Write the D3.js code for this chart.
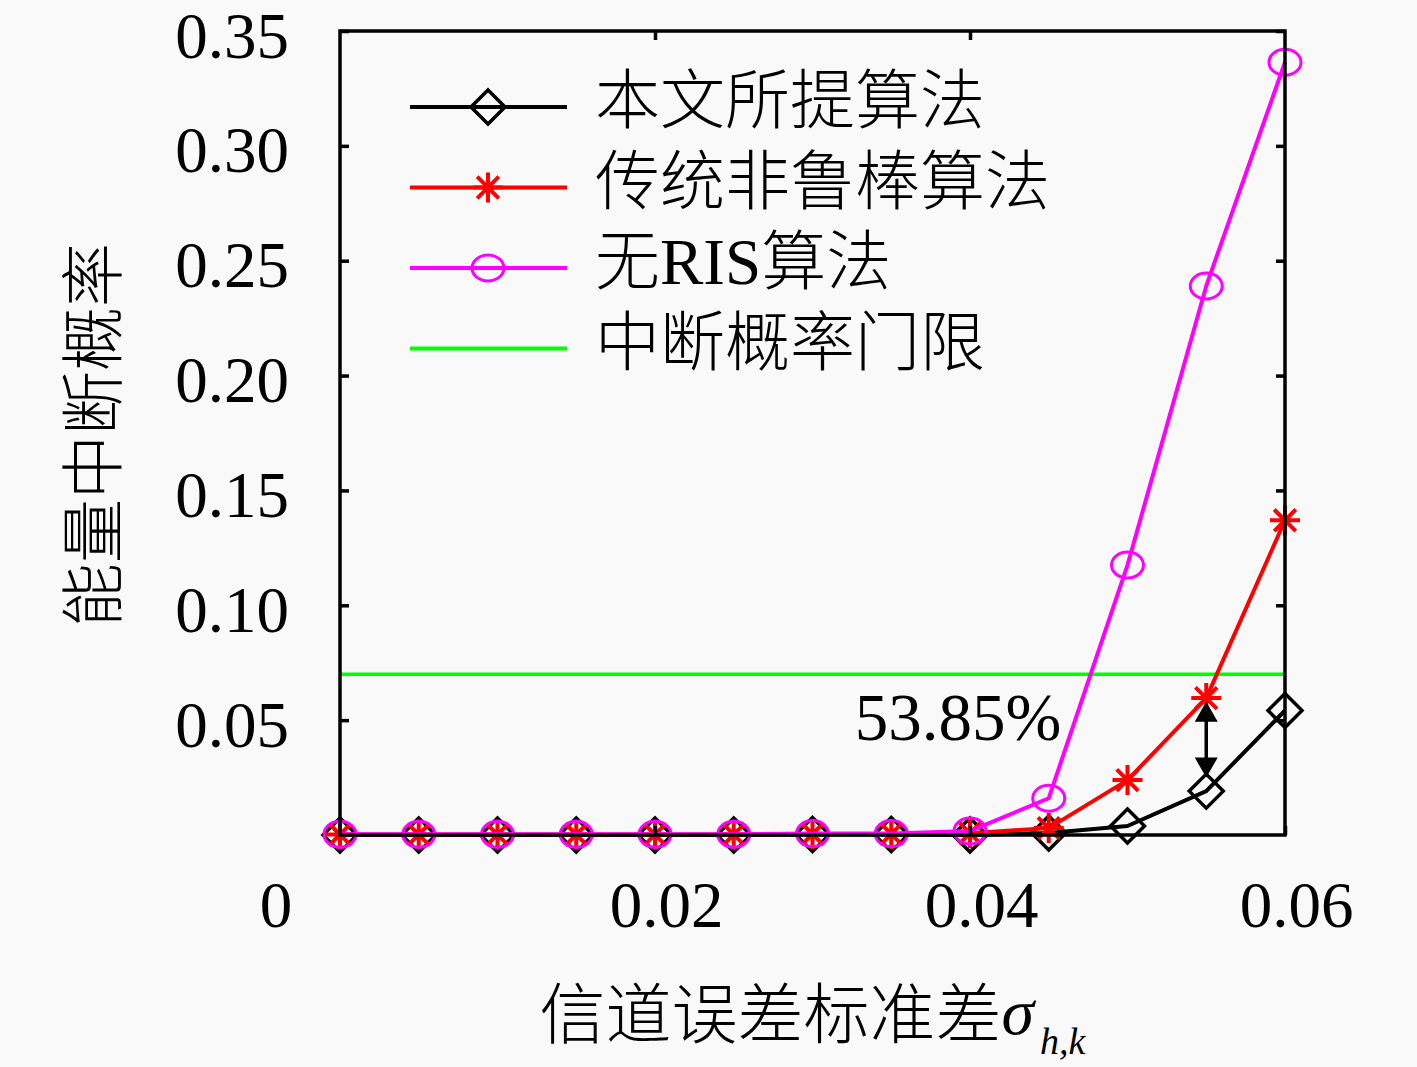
<!DOCTYPE html>
<html><head><meta charset="utf-8">
<script src="https://cdn.jsdelivr.net/npm/d3@7"></script>
<style>body{margin:0;background:#f9f9f9}</style>
</head><body><svg id="c" width="1417" height="1067"></svg>
<script>
// ---- data ----
const sigma = [0, 0.005, 0.01, 0.015, 0.02, 0.025, 0.03, 0.035, 0.04, 0.045, 0.05, 0.055, 0.06];
const proposed = [0, 0, 0, 0, 0, 0, 0.0002, 0.0002, 0, 0.0009, 0.0039, 0.0191, 0.0542];
const nonRobust = [0.0002, 0.0002, 0.0002, 0.0002, 0.0002, 0.0002, 0.0004, 0.0004, 0.0008, 0.003, 0.0239, 0.0596, 0.137];
const noRIS = [0.0003, 0.0003, 0.0003, 0.0003, 0.0003, 0.0003, 0.0006, 0.0006, 0.0017, 0.016, 0.1175, 0.239, 0.3364];
const threshold = 0.07;
const xTicks = [0.02, 0.04, 0.06];
const yTicks = [0.05, 0.10, 0.15, 0.20, 0.25, 0.30, 0.35];
const seriesNames = ["本文所提算法", "传统非鲁棒算法", "无RIS算法", "中断概率门限"];
const annotationText = "53.85%";
const annotationPos = [0.0458, 0.0413];
const arrowX = 0.055;
const arrowRange = [0.025, 0.058];

// ---- setup ----
const svg = d3.select("#c");
const L = 340, R = 1285, T = 31, B = 835;
const x = d3.scaleLinear().domain([0, 0.06]).range([L, R]);
const y = d3.scaleLinear().domain([0, 0.35]).range([B, T]);
const serif = "'Liberation Serif','Times New Roman',serif";
const cjk = "'Noto Sans CJK SC','Noto Sans CJK JP',sans-serif";

svg.append("rect").attr("width", 1417).attr("height", 1067).attr("fill", "#f9f9f9");

// threshold line
svg.append("line").attr("x1", x(0)).attr("x2", x(0.06))
  .attr("y1", y(threshold)).attr("y2", y(threshold))
  .attr("stroke", "#00ff00").attr("stroke-width", 3.5);

// markers
function drawMarker(g, type, cx, cy, color) {
  if (type === "diamond") {
    g.append("path").attr("d", `M${cx},${cy-17}L${cx+17},${cy}L${cx},${cy+17}L${cx-17},${cy}Z`)
      .attr("fill", "none").attr("stroke", color).attr("stroke-width", 3.5);
  } else if (type === "star") {
    const r = 15, d = r * 0.72;
    g.append("path").attr("d",
      `M${cx-r},${cy}L${cx+r},${cy}M${cx},${cy-r}L${cx},${cy+r}M${cx-d},${cy-d}L${cx+d},${cy+d}M${cx-d},${cy+d}L${cx+d},${cy-d}`)
      .attr("stroke", color).attr("stroke-width", 4).attr("fill", "none");
  } else if (type === "circle") {
    g.append("ellipse").attr("cx", cx).attr("cy", cy).attr("rx", 16).attr("ry", 13)
      .attr("fill", "none").attr("stroke", color).attr("stroke-width", 3);
  }
}

const series = [
  {vals: proposed, color: "#000000", marker: "diamond"},
  {vals: nonRobust, color: "#ff0000", marker: "star"},
  {vals: noRIS, color: "#ff00ff", marker: "circle"}
];
const line = d3.line().x(d => x(d[0])).y(d => y(d[1]));
series.forEach(s => {
  const pts = sigma.map((v, i) => [v, s.vals[i]]);
  const g = svg.append("g");
  g.append("path").attr("d", line(pts)).attr("fill", "none")
    .attr("stroke", s.color).attr("stroke-width", 4).attr("stroke-linejoin", "round");
  pts.forEach(p => drawMarker(g, s.marker, x(p[0]), y(p[1]), s.color));
});

// box
svg.append("rect").attr("x", L).attr("y", T).attr("width", R - L).attr("height", B - T)
  .attr("fill", "none").attr("stroke", "#000").attr("stroke-width", 3.5);

// axes
const yAxis = d3.axisLeft(y).tickValues(yTicks).tickFormat(d3.format(".2f"))
  .tickSizeInner(-9).tickSizeOuter(0).tickPadding(51);
const gy = svg.append("g").attr("transform", `translate(${L},0)`).call(yAxis);
gy.select(".domain").remove();
gy.selectAll("line").attr("stroke", "#000").attr("stroke-width", 3.5);
gy.selectAll("text").attr("font-family", serif).attr("font-size", 65).attr("fill", "#000").attr("dy", "0.4em");

const yAxisR = d3.axisRight(y).tickValues(yTicks).tickFormat("").tickSizeInner(-9).tickSizeOuter(0);
const gyr = svg.append("g").attr("transform", `translate(${R},0)`).call(yAxisR);
gyr.select(".domain").remove();
gyr.selectAll("line").attr("stroke", "#000").attr("stroke-width", 3.5);

const xAxis = d3.axisBottom(x).tickValues(xTicks).tickFormat(d3.format(".2f"))
  .tickSizeInner(-9).tickSizeOuter(0).tickPadding(46);
const gx = svg.append("g").attr("transform", `translate(0,${B})`).call(xAxis);
gx.select(".domain").remove();
gx.selectAll("line").attr("stroke", "#000").attr("stroke-width", 3.5);
gx.selectAll("text").attr("font-family", serif).attr("font-size", 65).attr("fill", "#000").attr("dx", 11);
gx.append("text").attr("x", x(0) - 64).attr("y", 46).attr("dy", "0.71em")
  .attr("text-anchor", "middle").attr("font-family", serif).attr("font-size", 65).attr("fill", "#000").text("0");

const xAxisT = d3.axisTop(x).tickValues(xTicks.slice(0, 2)).tickFormat("").tickSizeInner(-9).tickSizeOuter(0);
const gxt = svg.append("g").attr("transform", `translate(0,${T})`).call(xAxisT);
gxt.select(".domain").remove();
gxt.selectAll("line").attr("stroke", "#000").attr("stroke-width", 3.5);

// axis titles
const xt = svg.append("text").attr("x", (L + R) / 2).attr("y", 1038).attr("text-anchor", "middle").attr("fill", "#000");
xt.append("tspan").attr("font-family", cjk).attr("font-size", 66).attr("font-weight", 300).text("信道误差标准差");
xt.append("tspan").attr("font-family", serif).attr("font-style", "italic").attr("font-size", 66).attr("dy", -4).text("σ");
xt.append("tspan").attr("font-family", serif).attr("font-style", "italic").attr("font-size", 38).attr("dx", 6).attr("dy", 20).text("h,k");

svg.append("text").attr("transform", "translate(116,435) rotate(-90)").attr("text-anchor", "middle")
  .attr("font-family", cjk).attr("font-size", 64).attr("font-weight", 300).attr("fill", "#000").text("能量中断概率");

// legend
const legendColors = ["#000000", "#ff0000", "#ff00ff", "#00ff00"];
const legendMarkers = ["diamond", "star", "circle", null];
seriesNames.forEach((name, i) => {
  const ly = 107 + i * 80.5;
  const g = svg.append("g");
  g.append("line").attr("x1", 410).attr("x2", 567).attr("y1", ly).attr("y2", ly)
    .attr("stroke", legendColors[i]).attr("stroke-width", 4);
  if (legendMarkers[i]) drawMarker(g, legendMarkers[i], 488, ly, legendColors[i]);
  const t = g.append("text").attr("x", 595).attr("y", ly + 16).attr("font-size", 65).attr("fill", "#000");
  const m = name.match(/^([^A-Za-z]*)([A-Za-z]+)(.*)$/);
  if (m) {
    t.append("tspan").attr("font-family", cjk).attr("font-weight", 300).text(m[1]);
    t.append("tspan").attr("font-family", serif).text(m[2]);
    t.append("tspan").attr("font-family", cjk).attr("font-weight", 300).text(m[3]);
  } else {
    t.append("tspan").attr("font-family", cjk).attr("font-weight", 300).text(name);
  }
});

// annotation
svg.append("text").attr("x", x(annotationPos[0])).attr("y", y(annotationPos[1]))
  .attr("text-anchor", "end").attr("font-family", serif).attr("font-size", 67).attr("fill", "#000").text(annotationText);

// double arrow
const ax = x(arrowX), a1 = y(arrowRange[1]), a2 = y(arrowRange[0]);
const hl = 20, hw = 11.5;
svg.append("line").attr("x1", ax).attr("x2", ax).attr("y1", a1 + hl - 2).attr("y2", a2 - hl + 2)
  .attr("stroke", "#000").attr("stroke-width", 3.5);
svg.append("path").attr("d", `M${ax},${a1}L${ax+hw},${a1+hl}L${ax-hw},${a1+hl}Z`).attr("fill", "#000");
svg.append("path").attr("d", `M${ax},${a2}L${ax+hw},${a2-hl}L${ax-hw},${a2-hl}Z`).attr("fill", "#000");
</script>
</body></html>
